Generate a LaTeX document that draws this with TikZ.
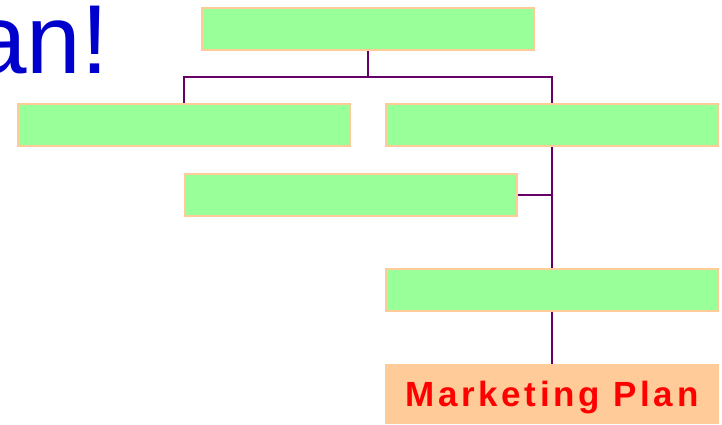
\documentclass[tikz,border=0pt]{standalone}
\usepackage{fontspec}
\setmainfont{Liberation Sans}
\usepackage{xcolor}
\usepackage{tikz}

\definecolor{leafgreen}{HTML}{99FF99}
\definecolor{peach}{HTML}{FFCC99}
\definecolor{wire}{HTML}{660066}
\definecolor{titleblue}{HTML}{0000CC}

\tikzset{
  stepbox/.style={draw=peach, line width=2pt, fill=leafgreen, minimum width=332pt, minimum height=42pt, inner sep=0pt},
  planbox/.style={fill=peach, minimum width=334pt, minimum height=60pt, inner sep=0pt, text depth=0pt,
    font=\fontsize{35}{40}\selectfont\bfseries\addfontfeature{LetterSpace=10.5}, text=red},
  wire/.style={draw=wire, line width=2pt}
}

\begin{document}
\begin{tikzpicture}[x=1pt, y=-1pt]
\useasboundingbox (0,0) rectangle (722,424);
\clip (0,0) rectangle (722,424);
\node[anchor=base west, inner sep=0pt, text=titleblue, font=\fontsize{98}{100}\selectfont] (title) at (-28,73) {an!};
% boxes
\node[stepbox] (top) at (368,29) {};
\node[stepbox] (left) at (184,125) {};
\node[stepbox] (right) at (552,125) {};
\node[stepbox] (mid) at (351,195) {};
\node[stepbox] (low) at (552,290) {};
\node[planbox] (plan) at (552,394) {Marketing Plan};
% connectors
\coordinate (bus) at (368,77);
\draw[wire] (top) -- (bus);
\draw[wire] (left) |- (bus) -| (right);
\draw[wire] (right) -- (low);
\draw[wire] (low) -- (plan);
\draw[wire] (mid.east) -- (mid.east -| right.south);
\end{tikzpicture}
\end{document}
